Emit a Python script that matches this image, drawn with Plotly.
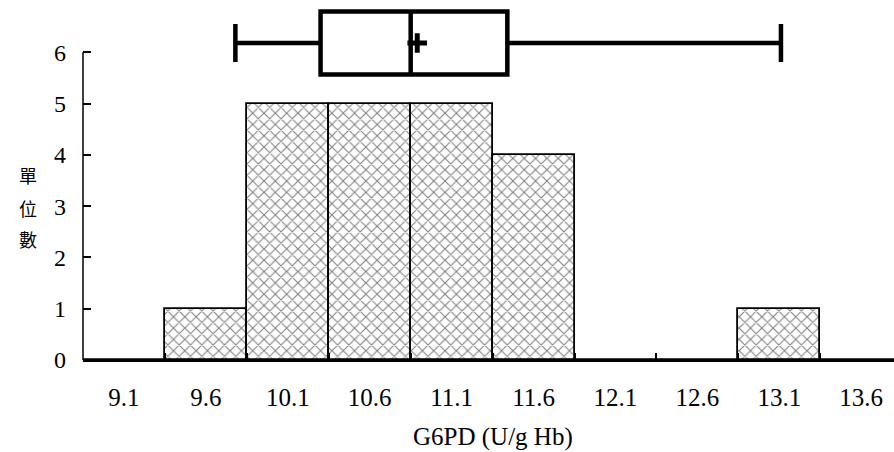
import plotly.graph_objects as go

categories = ["9.1", "9.6", "10.1", "10.6", "11.1", "11.6", "12.1", "12.6", "13.1", "13.6"]
counts = [0, 1, 5, 5, 5, 4, 0, 0, 1, 0]

# box plot summary (U/g Hb)
box_min = 9.78
box_q1 = 10.30
box_median = 10.85
box_q3 = 11.44
box_max = 13.11
box_mean = 10.89
box_level = 6.18

y_ticks = [0, 1, 2, 3, 4, 5, 6]
x_title = "G6PD (U/g Hb)"
y_title_chars = ["單", "位", "數"]
y_title_levels = [3.61, 2.96, 2.36]

serif = "Liberation Serif"

fig = go.Figure()

fig.add_trace(go.Bar(
    x=categories, y=counts, width=1.0,
    marker=dict(color="white",
                line=dict(color="black", width=1.8),
                pattern=dict(shape="x", fgcolor="black", bgcolor="white",
                             size=8, solidity=0.25)),
    xaxis="x", yaxis="y", showlegend=False,
))

fig.add_trace(go.Box(
    y=[box_level], q1=[box_q1], median=[box_median], q3=[box_q3],
    lowerfence=[box_min], upperfence=[box_max],
    orientation="h", width=1.23, whiskerwidth=0.6,
    line=dict(color="black", width=4.5), fillcolor="white",
    boxpoints=False, xaxis="x2", yaxis="y", showlegend=False,
))

fig.add_trace(go.Scatter(
    x=[box_mean], y=[box_level], mode="markers",
    marker=dict(symbol="cross-thin", size=14, color="black",
                line=dict(color="black", width=5)),
    xaxis="x2", yaxis="y", showlegend=False,
))

n = len(categories)
fig.update_layout(
    width=894, height=452,
    margin=dict(l=83, r=0, t=0, b=92),
    paper_bgcolor="white", plot_bgcolor="white",
    bargap=0,
    xaxis=dict(type="category", range=[-0.5, n - 0.6],
               tickson="boundaries", ticks="inside", ticklen=7, tickwidth=1.5,
               tickcolor="black", showline=True, linecolor="black", linewidth=2,
               showgrid=False, zeroline=False, ticklabelstandoff=14,
               tickfont=dict(family=serif, size=25, color="black")),
    xaxis2=dict(overlaying="x", anchor="y", visible=False,
                range=[9.1 - 0.25, 9.1 + 0.5 * (n - 0.6)]),
    yaxis=dict(range=[0, 360 / 51.3], tickvals=y_ticks, ticks="inside",
               ticklen=8, tickwidth=1.5, tickcolor="black", showline=False,
               showgrid=False, zeroline=False, ticklabelstandoff=16,
               tickfont=dict(family=serif, size=24, color="black")),
    shapes=[dict(type="line", xref="paper", yref="y", x0=0, x1=0, y0=0, y1=6,
                 line=dict(color="black", width=1.5))],
)

annotations = [dict(text=x_title, xref="x", yref="paper", x=4.5, y=-77 / 360,
                    showarrow=False, yanchor="middle", xanchor="center",
                    font=dict(family=serif, size=25, color="black"))]
for ch, lv in zip(y_title_chars, y_title_levels):
    annotations.append(dict(text=ch, xref="paper", yref="y", x=-55 / 811, y=lv,
                            showarrow=False, xanchor="center", yanchor="middle",
                            font=dict(family="Noto Sans CJK TC", size=18, color="black")))
fig.update_layout(annotations=annotations)

fig.write_html("out.html", config={"displayModeBar": False},
               post_script="document.body.style.margin='0';")
